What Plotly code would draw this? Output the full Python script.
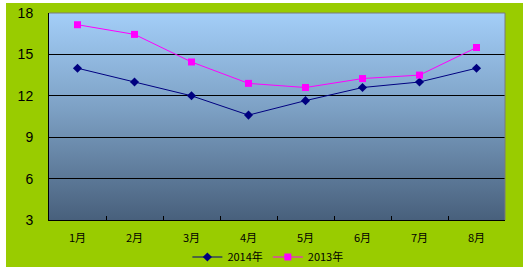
import base64
import plotly.graph_objects as go

months = ["1月", "2月", "3月", "4月", "5月", "6月", "7月", "8月"]
s2014 = [14.0, 13.0, 12.0, 10.6, 11.65, 12.6, 13.0, 14.0]
s2013 = [17.15, 16.45, 14.45, 12.9, 12.6, 13.25, 13.5, 15.5]
yticks = [3, 6, 9, 12, 15, 18]

W, H = 530, 272
ML, MR, MT, MB = 49, 25, 13, 52
PW, PH = W - ML - MR, H - MT - MB

def px_x(p):
    return (p - ML) / PW

def px_y(p):
    return (H - MB - p) / PH

svg = ('<svg xmlns="http://www.w3.org/2000/svg" width="100" height="100" preserveAspectRatio="none">'
       '<defs><linearGradient id="g" x1="0" y1="0" x2="0" y2="1">'
       '<stop offset="0" stop-color="#a3cef8"/><stop offset="0.45" stop-color="#7ea2c6"/>'
       '<stop offset="1" stop-color="#48607c"/></linearGradient></defs>'
       '<rect width="100" height="100" fill="url(#g)"/></svg>')
src = "data:image/svg+xml;base64," + base64.b64encode(svg.encode()).decode()

fig = go.Figure()
fig.add_trace(go.Scatter(x=months, y=s2014, name="2014年", mode="lines+markers",
                         line=dict(color="#000080", width=1),
                         marker=dict(symbol="diamond", size=7, color="#000080")))
fig.add_trace(go.Scatter(x=months, y=s2013, name="2013年", mode="lines+markers",
                         line=dict(color="#ff00ff", width=1),
                         marker=dict(symbol="square", size=7, color="#ff00ff")))

shapes = []
# white border around green paper
for x0, y0, x1, y1 in [(0, 0, 6, H), (W - 7, 0, W, H), (0, 0, W, 3), (0, H - 5, W, H)]:
    shapes.append(dict(type="rect", xref="paper", yref="paper",
                       x0=px_x(x0), x1=px_x(x1), y0=px_y(y1), y1=px_y(y0),
                       fillcolor="white", line=dict(width=0), layer="above"))
# gray top/right frame
shapes.append(dict(type="line", xref="paper", yref="paper", x0=0, x1=1, y0=1, y1=1,
                   line=dict(color="#7a7a7a", width=1)))
shapes.append(dict(type="line", xref="paper", yref="paper", x0=1, x1=1, y0=0, y1=1,
                   line=dict(color="#7a7a7a", width=1)))

fig.update_layout(
    width=W, height=H,
    margin=dict(l=ML, r=MR, t=MT, b=MB, autoexpand=False),
    paper_bgcolor="#99cc00",
    plot_bgcolor="#7fa3c8",
    font=dict(family="Liberation Sans, Arial", color="black"),
    images=[dict(source=src, xref="paper", yref="paper", x=0, y=1, sizex=1, sizey=1,
                 sizing="stretch", xanchor="left", yanchor="top", layer="below")],
    shapes=shapes,
    showlegend=True,
    legend=dict(orientation="h", x=0.48, xanchor="center", y=px_y(257), yanchor="middle",
                font=dict(family="Noto Sans CJK SC", size=11), bgcolor="rgba(0,0,0,0)",
                itemwidth=30, tracegroupgap=0),
    xaxis=dict(range=[-0.5, 7.5], showgrid=False, showline=True, linecolor="black", linewidth=1,
               ticks="inside", ticklen=4, tickcolor="black", tickson="boundaries",
               ticklabelstandoff=8,
               tickfont=dict(family="Noto Sans CJK SC", size=11), zeroline=False),
    yaxis=dict(range=[3, 18], tickvals=yticks, showgrid=True, gridcolor="black", gridwidth=1,
               showline=True, linecolor="black", linewidth=1, ticks="", ticklabelstandoff=12,
               tickfont=dict(size=14), zeroline=False),
)
fig.write_html("out.html")
